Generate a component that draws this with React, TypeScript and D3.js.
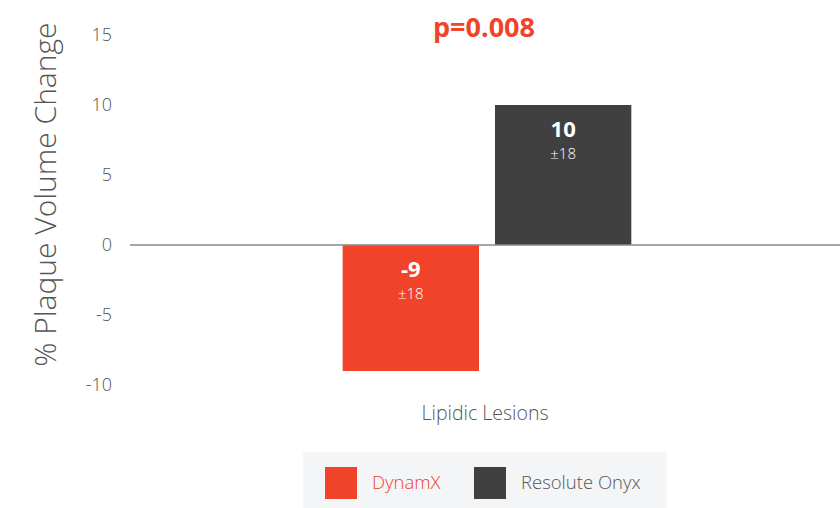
import React from "react";
import * as d3 from "d3";

const categories = ["Lipidic Lesions"];
const seriesNames = ["DynamX", "Resolute Onyx"];
const seriesValues = [-9, 10];
const seriesSd = ["±18", "±18"];
const seriesColors = ["#f04329", "#404040"];
const yTicks = [15, 10, 5, 0, -5, -10];
const pValue = "p=0.008";

const W = 840, H = 508;
const FONT = "'Open Sans', sans-serif";

const App = () => {
  const y = d3.scaleLinear().domain([-10, 15]).range([385, 35]);
  const x0 = d3.scaleBand().domain(categories).range([134, 840]);
  const x1 = d3.scaleBand().domain(seriesNames).range([0, x0.bandwidth()]).paddingInner(0.105).paddingOuter(1.37);

  const cx = x0(categories[0])! + x0.bandwidth() / 2;

  return (
    <div style={{ position: "absolute", left: 0, top: 0 }}>
      <svg width={W} height={H} style={{ display: "block", fontFamily: FONT }}>
        {yTicks.map(t => (
          <text key={t} x={112} y={y(t)} dy="0.35em" textAnchor="end" fontSize={18} fill="#555" fontWeight={300}>{t}</text>
        ))}
        <text transform={`translate(56,${y(3.6)}) rotate(-90)`} textAnchor="middle" fontSize={30} fill="#555" fontWeight={300}>% Plaque Volume Change</text>
        <text x={cx - 3} y={37} textAnchor="middle" fontSize={27} fontWeight={700} fill="#f04329">{pValue}</text>
        {seriesNames.map((s, i) => {
          const v = seriesValues[i];
          const bx = x0(categories[0])! + x1(s)!;
          const top = y(Math.max(0, v));
          const h = Math.abs(y(v) - y(0));
          const mx = bx + x1.bandwidth() / 2;
          return (
            <g key={s}>
              <rect x={bx} y={top} width={x1.bandwidth()} height={h} fill={seriesColors[i]} />
              <text x={mx} y={top + 32} textAnchor="middle" fontSize={22} fontWeight={700} fill="#fff">{v}</text>
              <text x={mx} y={top + 54} textAnchor="middle" fontSize={15} fill="#fff" fontWeight={300}>{seriesSd[i]}</text>
            </g>
          );
        })}
        <line x1={130} x2={840} y1={y(0)} y2={y(0)} stroke="#8a8a8a" strokeWidth={1.5} />
        <text x={cx - 2} y={420} textAnchor="middle" fontSize={19.5} fill="#555" fontWeight={300}>{categories[0]}</text>
        <rect x={303} y={452} width={364} height={56} fill="#f4f5f7" />
        {seriesNames.map((s, i) => {
          const lx = [325, 474][i];
          return (
            <g key={s}>
              <rect x={lx} y={467} width={32} height={32} fill={seriesColors[i]} />
              <text x={lx + 47} y={483} dy="0.35em" fontSize={18.5} fill={i === 0 ? "#f04329" : "#555"} fontWeight={300}>{s}</text>
            </g>
          );
        })}
      </svg>
    </div>
  );
};

export default App;
